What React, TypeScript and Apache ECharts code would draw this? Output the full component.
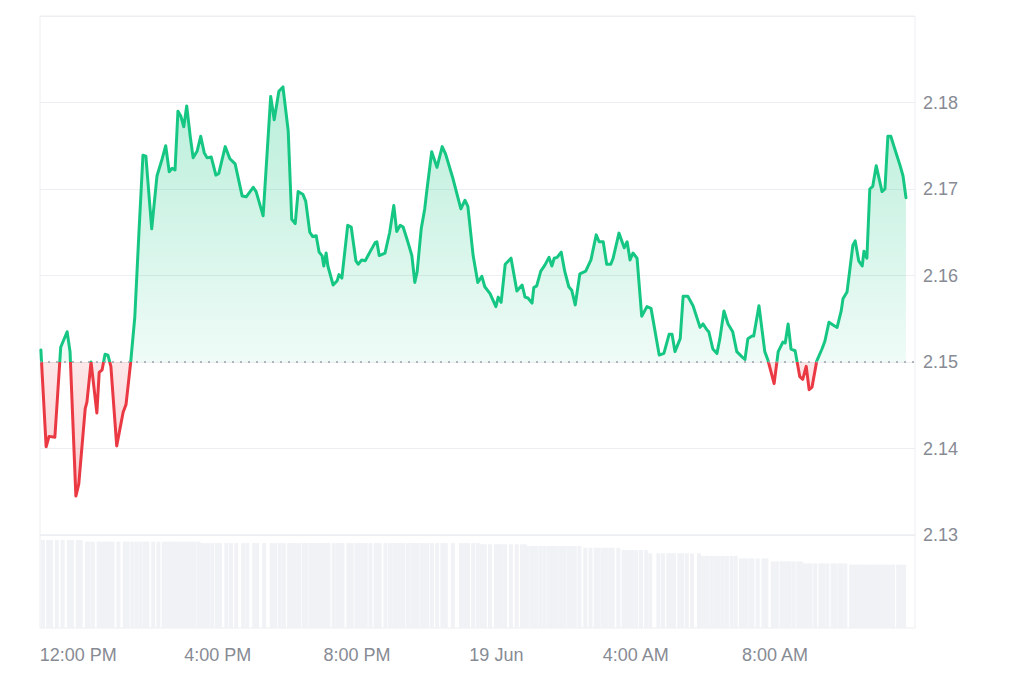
import React, { useEffect, useRef } from "react";
import * as echarts from "echarts";

// Sample times (month-day hour:minute, local) and prices
const times: string[] = [
  "06-18 10:59","06-18 11:08","06-18 11:13","06-18 11:23","06-18 11:33","06-18 11:44","06-18 11:49","06-18 11:59","06-18 12:04","06-18 12:15",
  "06-18 12:18","06-18 12:25","06-18 12:35","06-18 12:39","06-18 12:44","06-18 12:49","06-18 12:54","06-18 12:59","06-18 13:09","06-18 13:20",
  "06-18 13:25","06-18 13:33","06-18 13:40","06-18 13:47","06-18 13:54","06-18 13:59","06-18 14:09","06-18 14:18","06-18 14:27","06-18 14:33",
  "06-18 14:39","06-18 14:44","06-18 14:49","06-18 14:54","06-18 14:59","06-18 15:04","06-18 15:09","06-18 15:15","06-18 15:20","06-18 15:27",
  "06-18 15:33","06-18 15:39","06-18 15:44","06-18 15:51","06-18 15:59","06-18 16:04","06-18 16:15","06-18 16:23","06-18 16:32","06-18 16:44",
  "06-18 16:51","06-18 17:03","06-18 17:08","06-18 17:20","06-18 17:33","06-18 17:39","06-18 17:47","06-18 17:54","06-18 18:03","06-18 18:09",
  "06-18 18:15","06-18 18:20","06-18 18:28","06-18 18:33","06-18 18:40","06-18 18:45","06-18 18:51","06-18 18:56","06-18 19:01","06-18 19:04",
  "06-18 19:08","06-18 19:11","06-18 19:20","06-18 19:27","06-18 19:30","06-18 19:35","06-18 19:45","06-18 19:51","06-18 19:59","06-18 20:03",
  "06-18 20:09","06-18 20:15","06-18 20:23","06-18 20:32","06-18 20:35","06-18 20:39","06-18 20:49","06-18 20:57","06-18 21:04","06-18 21:09",
  "06-18 21:15","06-18 21:20","06-18 21:28","06-18 21:35","06-18 21:40","06-18 21:44","06-18 21:51","06-18 21:57","06-18 22:01","06-18 22:09",
  "06-18 22:18","06-18 22:27","06-18 22:33","06-18 22:45","06-18 22:59","06-18 23:06","06-18 23:11","06-18 23:20","06-18 23:28","06-18 23:35",
  "06-18 23:40","06-18 23:49","06-18 23:59","06-19 00:03","06-19 00:08","06-19 00:15","06-19 00:25","06-19 00:35","06-19 00:44","06-19 00:49",
  "06-19 00:54","06-19 01:01","06-19 01:04","06-19 01:09","06-19 01:16","06-19 01:23","06-19 01:30","06-19 01:35","06-19 01:39","06-19 01:44",
  "06-19 01:51","06-19 01:57","06-19 02:04","06-19 02:09","06-19 02:15","06-19 02:23","06-19 02:33","06-19 02:42","06-19 02:51","06-19 02:56",
  "06-19 03:03","06-19 03:09","06-19 03:16","06-19 03:20","06-19 03:30","06-19 03:39","06-19 03:44","06-19 03:49","06-19 03:54","06-19 04:01",
  "06-19 04:09","06-19 04:18","06-19 04:25","06-19 04:39","06-19 04:47","06-19 04:56","06-19 05:01","06-19 05:06","06-19 05:15","06-19 05:20",
  "06-19 05:28","06-19 05:37","06-19 05:49","06-19 05:54","06-19 06:01","06-19 06:04","06-19 06:11","06-19 06:18","06-19 06:23","06-19 06:30",
  "06-19 06:37","06-19 06:45","06-19 06:52","06-19 07:01","06-19 07:06","06-19 07:11","06-19 07:18","06-19 07:21","06-19 07:30","06-19 07:40",
  "06-19 07:45","06-19 07:56","06-19 08:03","06-19 08:11","06-19 08:15","06-19 08:20","06-19 08:25","06-19 08:32","06-19 08:40","06-19 08:45",
  "06-19 08:51","06-19 08:56","06-19 09:01","06-19 09:09","06-19 09:18","06-19 09:23","06-19 09:30","06-19 09:39","06-19 09:44","06-19 09:51",
  "06-19 09:54","06-19 10:01","06-19 10:11","06-19 10:15","06-19 10:21","06-19 10:27","06-19 10:30","06-19 10:35","06-19 10:40","06-19 10:45",
  "06-19 10:51","06-19 10:56","06-19 11:01","06-19 11:06","06-19 11:11","06-19 11:16","06-19 11:23","06-19 11:32","06-19 11:37","06-19 11:42",
];

const prices: number[] = [
  2.1514,2.1402,2.1414,2.1413,2.1517,2.1535,2.1512,2.1345,2.1359,2.1446,
  2.1454,2.1500,2.1441,2.1488,2.1491,2.1509,2.1508,2.1495,2.1403,2.1442,
  2.1451,2.1500,2.1552,2.1648,2.1739,2.1738,2.1654,2.1715,2.1735,2.1750,
  2.1720,2.1724,2.1722,2.1790,2.1784,2.1772,2.1796,2.1761,2.1736,2.1744,
  2.1761,2.1742,2.1736,2.1737,2.1716,2.1718,2.1749,2.1735,2.1729,2.1692,
  2.1691,2.1702,2.1697,2.1669,2.1807,2.1780,2.1813,2.1818,2.1767,2.1665,
  2.1660,2.1697,2.1694,2.1686,2.1650,2.1645,2.1646,2.1627,2.1623,2.1611,
  2.1626,2.1611,2.1589,2.1594,2.1601,2.1597,2.1658,2.1656,2.1617,2.1613,
  2.1618,2.1617,2.1627,2.1638,2.1639,2.1623,2.1626,2.1650,2.1681,2.1651,
  2.1658,2.1656,2.1639,2.1623,2.1592,2.1604,2.1654,2.1677,2.1700,2.1743,
  2.1725,2.1749,2.1740,2.1713,2.1677,2.1687,2.1680,2.1623,2.1592,2.1599,
  2.1587,2.1579,2.1564,2.1575,2.1569,2.1613,2.1620,2.1582,2.1589,2.1575,
  2.1574,2.1568,2.1586,2.1588,2.1605,2.1612,2.1621,2.1611,2.1620,2.1621,
  2.1627,2.1605,2.1587,2.1583,2.1566,2.1602,2.1605,2.1618,2.1647,2.1639,
  2.1639,2.1613,2.1613,2.1620,2.1649,2.1632,2.1639,2.1618,2.1626,2.1620,
  2.1553,2.1564,2.1562,2.1508,2.1510,2.1532,2.1532,2.1512,2.1527,2.1576,
  2.1576,2.1565,2.1540,2.1544,2.1537,2.1535,2.1515,2.1510,2.1527,2.1559,
  2.1544,2.1535,2.1512,2.1506,2.1503,2.1527,2.1530,2.1530,2.1565,2.1512,
  2.1503,2.1475,2.1512,2.1523,2.1522,2.1544,2.1515,2.1513,2.1483,2.1480,
  2.1495,2.1468,2.1471,2.1501,2.1515,2.1524,2.1546,2.1542,2.1540,2.1559,
  2.1573,2.1581,2.1635,2.1640,2.1617,2.1611,2.1628,2.1620,2.1700,2.1703,
  2.1727,2.1712,2.1697,2.1700,2.1761,2.1761,2.1746,2.1727,2.1715,2.1690,
];

// Volume (billions), one per sample
const volumes: number[] = [
  3.03,3.03,3.03,3.03,3.03,3.03,3.03,3.03,3.03,2.97,
  2.97,2.97,2.97,2.97,2.97,2.97,2.97,2.97,2.97,2.97,
  2.97,2.97,2.97,2.97,2.97,2.97,2.97,2.97,2.97,2.97,
  2.97,2.97,2.97,2.97,2.97,2.97,2.97,2.97,2.97,2.97,
  2.92,2.92,2.92,2.92,2.92,2.92,2.92,2.92,2.92,2.92,
  2.92,2.92,2.92,2.92,2.92,2.92,2.92,2.92,2.92,2.92,
  2.92,2.92,2.92,2.92,2.92,2.92,2.92,2.92,2.92,2.92,
  2.92,2.92,2.92,2.92,2.92,2.92,2.92,2.92,2.92,2.92,
  2.92,2.92,2.92,2.92,2.92,2.92,2.92,2.92,2.92,2.92,
  2.92,2.92,2.92,2.92,2.92,2.92,2.92,2.92,2.92,2.92,
  2.92,2.92,2.92,2.92,2.92,2.92,2.92,2.92,2.92,2.88,
  2.88,2.88,2.88,2.88,2.88,2.88,2.88,2.88,2.88,2.88,
  2.82,2.82,2.82,2.82,2.82,2.82,2.82,2.82,2.82,2.82,
  2.82,2.82,2.82,2.82,2.82,2.82,2.76,2.76,2.76,2.76,
  2.76,2.76,2.76,2.76,2.76,2.68,2.68,2.68,2.68,2.68,
  2.68,2.68,2.57,2.57,2.57,2.57,2.57,2.57,2.57,2.57,
  2.57,2.57,2.57,2.48,2.48,2.48,2.48,2.48,2.48,2.48,
  2.48,2.48,2.48,2.39,2.39,2.39,2.39,2.39,2.39,2.39,
  2.39,2.29,2.29,2.29,2.29,2.29,2.29,2.29,2.29,2.29,
  2.22,2.22,2.22,2.22,2.22,2.22,2.22,2.22,2.22,2.22,
  2.22,2.22,2.18,2.18,2.18,2.18,2.18,2.18,2.18,2.18,
  2.18,2.18,2.18,2.18,2.18,2.18,2.18,2.18,2.18,2.18,
];

const baseline = 2.15;
const yMin = 2.13;
const yMax = 2.19;
const yStep = 0.01;
const months = ["Jan","Feb","Mar","Apr","May","Jun","Jul","Aug","Sep","Oct","Nov","Dec"];

const GREEN = "#16c784";
const RED = "#ea3943";
const TEXT = "#878b94";
const GRIDC = "#eceef1";

function toTs(s: string): number {
  const [md, hm] = s.split(" ");
  const [mo, d] = md.split("-").map(Number);
  const [h, mi] = hm.split(":").map(Number);
  return new Date(2025, mo - 1, d, h, mi).getTime();
}

export default function App() {
  const ref = useRef<HTMLDivElement>(null);
  useEffect(() => {
    if (!ref.current) return;
    const chart = echarts.init(ref.current, undefined, { renderer: "svg" });
    const ts = times.map(toTs);
    const priceData = ts.map((t, i) => [t, prices[i]]);
    const volData = ts.map((t, i) => [t, volumes[i]]);
    const xMin = new Date(2025, 5, 18, 10, 57, 30).getTime();
    const xMax = new Date(2025, 5, 19, 11, 57, 30).getTime();

    const top = 16;
    const priceBottomPx = 535;
    const split = (yMax - baseline) / (yMax - yMin);

    const fmtTime = (val: number) => {
      if (val < xMin || val > xMax) return "";
      const d = new Date(val);
      const h = d.getHours();
      const m = d.getMinutes();
      if (m !== 0 || d.getSeconds() !== 0) return "";
      if (h === 0) return `${d.getDate()} ${months[d.getMonth()]}`;
      const h12 = h % 12 === 0 ? 12 : h % 12;
      return `${h12}:00 ${h < 12 ? "AM" : "PM"}`;
    };

    const lineGrad = {
      type: "linear",
      x: 0,
      y: top,
      x2: 0,
      y2: priceBottomPx,
      global: true,
      colorStops: [
        { offset: 0, color: GREEN },
        { offset: split, color: GREEN },
        { offset: split, color: RED },
        { offset: 1, color: RED },
      ],
    };

    chart.setOption({
      animation: false,
      textStyle: { fontFamily: "Liberation Sans, Arial, sans-serif" },
      grid: [
        { left: 40, right: 109, top: top, bottom: 683 - priceBottomPx, show: true, borderColor: GRIDC, borderWidth: 1 },
        { left: 40, right: 109, top: priceBottomPx, bottom: 55, show: true, borderColor: GRIDC, borderWidth: 1 },
      ],
      xAxis: [
        { type: "time", gridIndex: 0, min: xMin, max: xMax, show: false },
        {
          type: "time",
          gridIndex: 1,
          min: xMin,
          max: xMax,
          minInterval: 4 * 3600 * 1000,
          maxInterval: 4 * 3600 * 1000,
          axisLine: { show: false },
          axisTick: { show: false },
          splitLine: { show: false },
          axisLabel: {
            formatter: fmtTime,
            color: TEXT,
            fontSize: 18,
            margin: 18,
            fontFamily: "Liberation Sans, Arial, sans-serif",
          },
        },
      ],
      yAxis: [
        {
          type: "value",
          gridIndex: 0,
          position: "right",
          min: yMin,
          max: yMax,
          interval: yStep,
          axisLine: { show: false },
          axisTick: { show: false },
          splitLine: { lineStyle: { color: GRIDC, width: 1 } },
          axisLabel: {
            color: TEXT,
            fontSize: 18,
            margin: 8,
            showMaxLabel: false,
            formatter: (v: number) => v.toFixed(2),
            fontFamily: "Liberation Sans, Arial, sans-serif",
          },
        },
        {
          type: "value",
          gridIndex: 1,
          min: 0,
          max: 3.2,
          show: false,
        },
      ],
      series: [
        {
          type: "line",
          xAxisIndex: 0,
          yAxisIndex: 0,
          data: priceData,
          showSymbol: false,
          symbol: "none",
          lineStyle: { width: 3, color: lineGrad, join: "round", cap: "round" },
          itemStyle: { color: GREEN },
          areaStyle: {
            origin: baseline,
            opacity: 1,
            color: {
              type: "linear",
              x: 0,
              y: top,
              x2: 0,
              y2: priceBottomPx,
              global: true,
              colorStops: [
                { offset: 0, color: "rgba(22,199,132,0.36)" },
                { offset: split, color: "rgba(22,199,132,0.07)" },
                { offset: split, color: "rgba(234,57,67,0.12)" },
                { offset: 1, color: "rgba(234,57,67,0.30)" },
              ],
            },
          },
          markLine: {
            silent: true,
            symbol: "none",
            label: { show: false },
            lineStyle: { type: [2, 6], width: 1.5, color: "#9aa0ab" },
            data: [{ yAxis: baseline }],
          },
          z: 3,
        },
        {
          type: "bar",
          xAxisIndex: 1,
          yAxisIndex: 1,
          data: volData,
          barWidth: 4,
          silent: true,
          itemStyle: { color: "#f0f2f5" },
        },
      ],
    });
    return () => chart.dispose();
  }, []);
  return (
    <div
      ref={ref}
      style={{ position: "fixed", left: 0, top: 0, width: 1024, height: 683, background: "#fff" }}
    />
  );
}
